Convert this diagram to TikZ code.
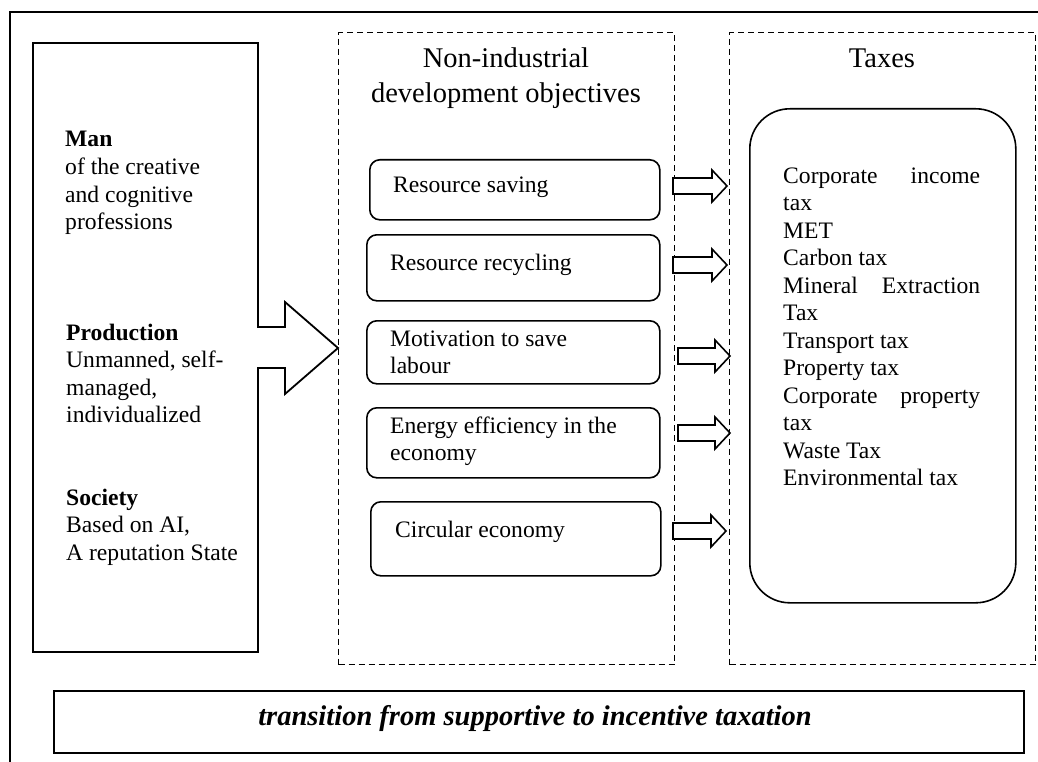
\documentclass[tikz,border=0pt]{standalone}
\usepackage{fontspec}
\setmainfont{Liberation Serif}
\begin{document}
\begin{tikzpicture}[x=1pt,y=-1pt,
  frame/.style={line width=2.5pt},
  boxline/.style={draw, line width=1.8pt},
  dbox/.style={draw, line width=1.3pt, dash pattern=on 6pt off 4pt, inner sep=0pt, anchor=north west},
  rbox/.style={draw, line width=1.6pt, rounded corners=10pt, inner sep=0pt, anchor=north west},
  txt/.style={font=\fontsize{23.6}{27.5}\selectfont, inner sep=0pt, anchor=base west},
  ttl/.style={font=\fontsize{28.5}{35}\selectfont, inner sep=0pt, anchor=base, align=center},
  barrow/.style={draw, line width=1.6pt, fill=white}]
\useasboundingbox (0,0) rectangle (1038,762);
% outer frame
\draw[frame] (1038,12) -- (10,12) -- (10,762);

% left box with integrated block arrow
\node[inner sep=0pt, minimum width=225pt, minimum height=609pt, anchor=north west] (leftbox) at (33,43) {};
\draw[boxline] (258,327) -- (285,327) -- (285,302) -- (338,348) -- (285,394) -- (285,368) -- (258,368)
  -- (258,652) -- (33,652) -- (33,43) -- (258,43) -- cycle;
\node[txt] (man) at (65,147) {\parbox[t]{190pt}{\textbf{Man}\\of the creative\\and cognitive\\professions}};
\node[txt] (prod) at (66,340) {\parbox[t]{190pt}{\textbf{Production}\\Unmanned, self-\\managed,\\individualized}};
\node[txt] (soc) at (66,505) {\parbox[t]{190pt}{\textbf{Society}\\Based on AI,\\A reputation State}};

% middle dashed column
\node[dbox, minimum width=336pt, minimum height=632pt] (mid) at (338,32) {};
\node[ttl] (midttl) at (506,103) {Non-industrial\\development objectives};

\node[rbox, minimum width=290pt, minimum height=60pt] (b1) at (369,159) {};
\node[rbox, minimum width=293pt, minimum height=66pt] (b2) at (366,234) {};
\node[rbox, minimum width=293pt, minimum height=63pt] (b3) at (366,320) {};
\node[rbox, minimum width=293pt, minimum height=70pt] (b4) at (366,407) {};
\node[rbox, minimum width=290pt, minimum height=74pt] (b5) at (370,501) {};
\node[txt] (t1) at (393,193) {Resource saving};
\node[txt] (t2) at (390,270) {Resource recycling};
\node[txt] (t3) at (390,346) {\parbox[t]{260pt}{Motivation to save\\labour}};
\node[txt] (t4) at (390,433) {\parbox[t]{260pt}{Energy efficiency in the\\economy}};
\node[txt] (t5) at (395,537) {Circular economy};

% taxes dashed column
\node[dbox, minimum width=306pt, minimum height=632pt] (tax) at (729,32) {};
\node[ttl] (taxttl) at (882,68) {Taxes};
\node[draw, line width=1.6pt, rounded corners=40pt, inner sep=0pt, anchor=north west,
  minimum width=266pt, minimum height=494pt] (taxbox) at (749,108) {};
\node[txt] (taxlist) at (783,183) {\parbox[t]{197pt}{%
\makebox[197pt][s]{Corporate income}\\
tax\\
MET\\
Carbon tax\\
\makebox[197pt][s]{Mineral Extraction}\\
Tax\\
Transport tax\\
Property tax\\
\makebox[197pt][s]{Corporate property}\\
tax\\
Waste Tax\\
Environmental tax}};

% block arrows from objectives to taxes
\foreach \xa/\xb/\yy in {673/727/186, 673/727/265, 678/730/356, 678/730/433, 673/726/531}{
  \draw[barrow] (\xa,\yy-8) -- (\xb-15,\yy-8) -- (\xb-15,\yy-16) -- (\xb,\yy)
    -- (\xb-15,\yy+16) -- (\xb-15,\yy+8) -- (\xa,\yy+8) -- cycle;
}

% bottom box
\node[draw, line width=2pt, inner sep=0pt, anchor=north west, minimum width=970pt, minimum height=62pt] (bottom) at (53,690) {};
\node[inner sep=0pt, anchor=base, font=\fontsize{28.5}{32}\selectfont\bfseries\itshape] (btext) at (535,725)
  {transition from supportive to incentive taxation};
\end{tikzpicture}
\end{document}
